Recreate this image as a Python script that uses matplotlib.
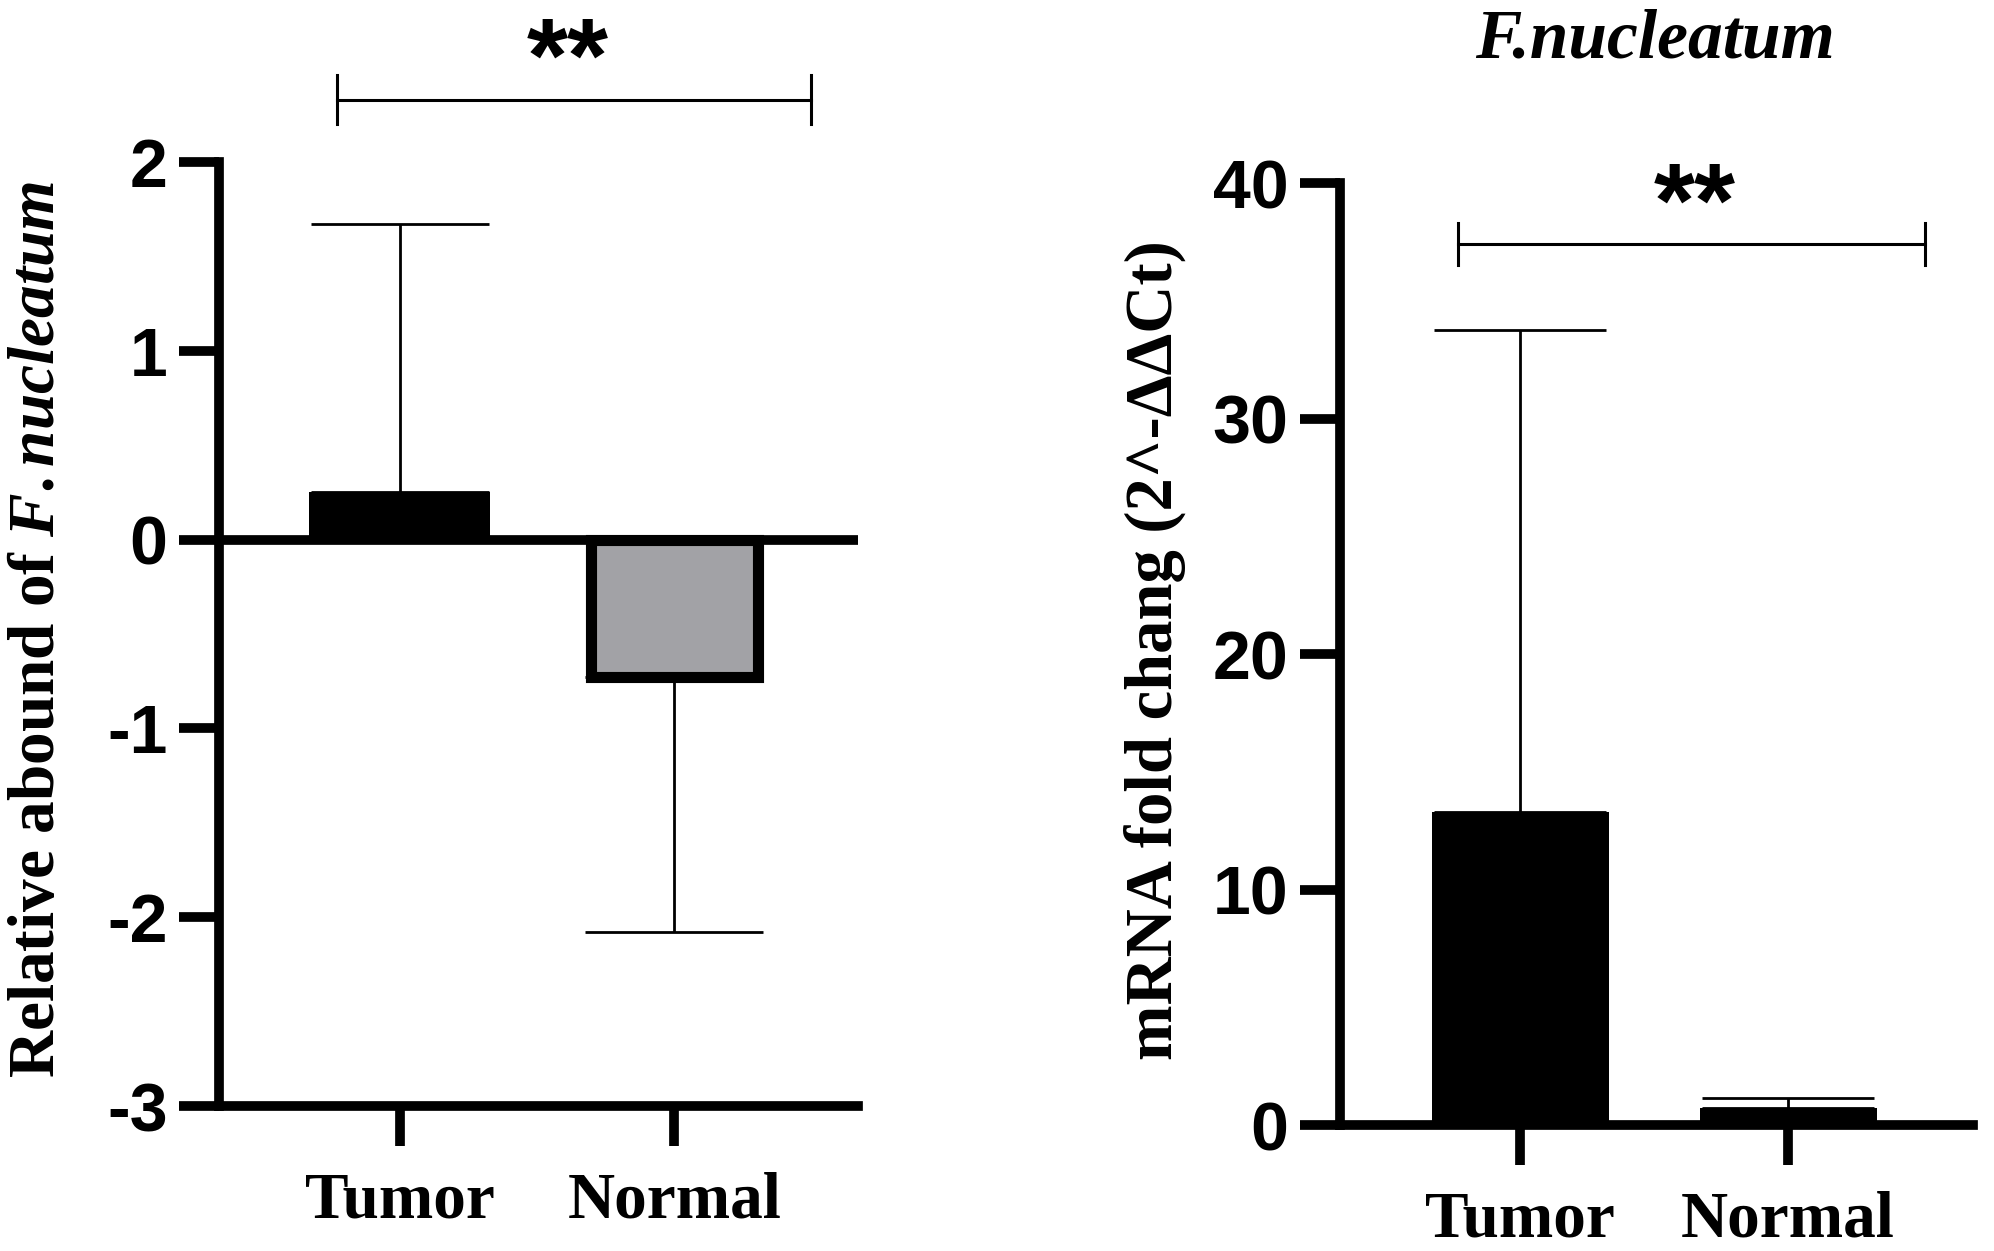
import matplotlib
matplotlib.use("Agg")
import matplotlib.pyplot as plt
import numpy as np

# data
groups = ["Tumor", "Normal"]

rel_mean = [0.25, -0.73]
rel_err_low = [0.0, 1.35]
rel_err_up = [1.42, 0.0]
rel_colors = ["black", "#a2a2a6"]

fold_mean = [13.3, 0.72]
fold_err_low = [0.0, 0.0]
fold_err_up = [20.45, 0.42]
fold_colors = ["black", "black"]

left_ticks = [-3, -2, -1, 0, 1, 2]
right_ticks = [0, 10, 20, 30, 40]

plt.rcParams['mathtext.fontset'] = 'custom'
plt.rcParams['mathtext.rm'] = 'Liberation Serif:bold'
plt.rcParams['mathtext.it'] = 'Liberation Serif:italic:bold'

SERIF = ['Liberation Serif', 'DejaVu Serif']
SANS = ['Liberation Sans', 'DejaVu Sans']
SPINE_W = 7

fig = plt.figure(figsize=(19.94, 12.51), dpi=100)
ax1 = fig.add_axes([0.1098, 0.1159, 0.3205, 0.7546])
ax2 = fig.add_axes([0.6720, 0.1007, 0.3175, 0.7530])


def style_axis(ax):
    for s in ['top', 'right']:
        ax.spines[s].set_visible(False)
    for s in ['left', 'bottom']:
        ax.spines[s].set_linewidth(SPINE_W)
        ax.spines[s].set_zorder(5)
    ax.tick_params(axis='both', direction='out', length=29, width=SPINE_W)
    ax.tick_params(axis='y', pad=8)
    ax.tick_params(axis='x', pad=18)
    for t in ax.get_yticklabels():
        t.set_fontfamily(SANS)
        t.set_fontweight('bold')
        t.set_fontsize(49)
    for t in ax.get_xticklabels():
        t.set_fontfamily(SERIF)
        t.set_fontweight('bold')
        t.set_fontsize(47)


def bracket(ax, x0, x1, y, h, star_x, star_y):
    ax.plot([x0, x1], [y, y], color='black', lw=2.2, clip_on=False)
    ax.plot([x0, x0], [y - h, y + h], color='black', lw=2.2, clip_on=False)
    ax.plot([x1, x1], [y - h, y + h], color='black', lw=2.2, clip_on=False)
    ax.text(star_x, star_y, '**', ha='center', va='center',
            fontsize=76, fontweight='bold', family=SANS, clip_on=False)


x = np.arange(len(groups))

# left panel
ax1.bar(x, rel_mean, width=[0.66, 0.61], color=rel_colors, edgecolor='black',
        linewidth=[0, 8], zorder=3)
ax1.errorbar(x, rel_mean, yerr=[rel_err_low, rel_err_up], fmt='none',
             ecolor='black', elinewidth=2, capsize=64, capthick=2, zorder=2)
ax1.axhline(0, color='black', lw=7, zorder=4)
ax1.set_xlim(-0.66, 1.67)
ax1.set_ylim(-3, 2)
ax1.set_yticks(left_ticks)
ax1.set_yticklabels([str(v) for v in left_ticks])
ax1.set_xticks(x)
ax1.set_xticklabels(groups)
style_axis(ax1)
bracket(ax1, -0.23, 1.5, 2.33, 0.13, 0.61, 2.52)

# right panel
ax2.bar(x, fold_mean, width=0.66, color=fold_colors, linewidth=0, zorder=3)
ax2.errorbar(x, fold_mean, yerr=[fold_err_low, fold_err_up], fmt='none',
             ecolor='black', elinewidth=2, capsize=62, capthick=2, zorder=2)
ax2.set_xlim(-0.672, 1.69)
ax2.set_ylim(0, 40)
ax2.set_yticks(right_ticks)
ax2.set_yticklabels([str(v) for v in right_ticks])
ax2.set_xticks(x)
ax2.set_xticklabels(groups)
style_axis(ax2)
bracket(ax2, -0.23, 1.51, 37.4, 0.9, 0.65, 38.9)

# labels
fig.text(0.019, 0.497, r'Relative abound of $\mathit{F.nucleatum}$',
         rotation=90, ha='center', va='center', fontsize=47,
         family=SERIF, fontweight='bold')
fig.text(0.579, 0.48, 'mRNA fold chang (2^-ΔΔCt)',
         rotation=90, ha='center', va='center', fontsize=48,
         family=SERIF, fontweight='bold')
fig.text(0.830, 0.968, 'F.nucleatum', ha='center', va='center', fontsize=50,
         family=SERIF, fontweight='bold', style='italic')

fig.savefig('out.png', dpi=100)
